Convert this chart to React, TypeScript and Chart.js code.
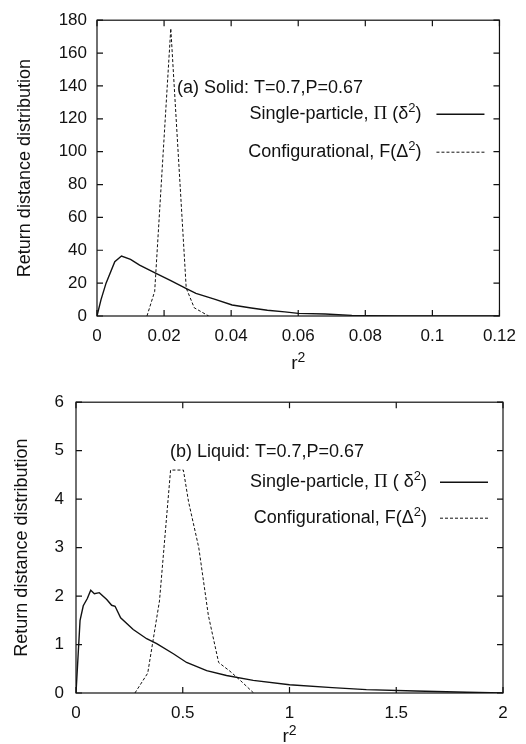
import React, { useEffect, useRef } from "react";
import { Chart, registerables } from "chart.js";
Chart.register(...registerables);

// ---------- Data: (a) Solid ----------
const solidSingleX = [0, 0.0012, 0.0027, 0.0053, 0.0073, 0.0100, 0.0127, 0.0176, 0.0220, 0.0265, 0.0295, 0.0350, 0.0403, 0.0460, 0.0508, 0.0560, 0.0600, 0.0680, 0.0760, 0.0800, 0.0900, 0.1000, 0.1200];
const solidSingleY = [0, 10, 20, 33, 36.5, 34.5, 31, 26, 21.5, 16.8, 13.8, 10.3, 6.7, 4.9, 3.5, 2.5, 1.6, 1.2, 0.4, 0.2, 0.1, 0, 0];
const solidConfX = [0.0149, 0.0172, 0.0220, 0.0266, 0.0290, 0.0333];
const solidConfY = [0, 15, 175, 17, 5, 0];

// ---------- Data: (b) Liquid ----------
const liquidSingleX = [0, 0.019, 0.034, 0.053, 0.069, 0.086, 0.109, 0.144, 0.167, 0.183, 0.209, 0.268, 0.331, 0.378, 0.456, 0.518, 0.612, 0.705, 0.830, 1.0, 1.2, 1.36, 1.59, 1.83, 2.0];
const liquidSingleY = [0, 1.5, 1.8, 1.95, 2.12, 2.05, 2.07, 1.93, 1.81, 1.79, 1.55, 1.31, 1.12, 1.02, 0.81, 0.63, 0.46, 0.36, 0.26, 0.17, 0.11, 0.07, 0.04, 0.014, 0];
const liquidConfX = [0.276, 0.336, 0.391, 0.443, 0.503, 0.527, 0.575, 0.620, 0.668, 0.721, 0.772, 0.832];
const liquidConfY = [0, 0.41, 1.9, 4.6, 4.6, 3.95, 3.0, 1.6, 0.63, 0.45, 0.25, 0];

// ---------- Ticks & text ----------
const xTicksA = [0, 0.02, 0.04, 0.06, 0.08, 0.1, 0.12];
const yTicksA = [0, 20, 40, 60, 80, 100, 120, 140, 160, 180];
const xTicksB = [0, 0.5, 1, 1.5, 2];
const yTicksB = [0, 1, 2, 3, 4, 5, 6];
const titleA = "(a) Solid: T=0.7,P=0.67";
const titleB = "(b) Liquid: T=0.7,P=0.67";
const singleLabelA = "Single-particle, Π (δ²)";
const singleLabelB = "Single-particle, Π ( δ²)";
const confLabel = "Configurational, F(Δ²)";
const yTitle = "Return distance distribution";
const xTitle = "r²";

const SANS = '"Liberation Sans", Arial, Helvetica, sans-serif';
const SERIF = '"Liberation Serif", "Times New Roman", serif';
const INK = "#111111";
const TXT = 18;

const toPts = (xs: number[], ys: number[]) => xs.map((x, i) => ({ x, y: ys[i] }));

type Run = { t: string; f: string; dy: number };
function splitRuns(label: string, size: number): Run[] {
  const runs: Run[] = [];
  let buf = "";
  const flush = () => {
    if (buf) runs.push({ t: buf, f: `${size}px ${SANS}`, dy: 0 });
    buf = "";
  };
  for (const ch of label) {
    if (ch === "Π") {
      flush();
      runs.push({ t: ch, f: `${size + 1}px ${SERIF}`, dy: 0 });
    } else if (ch === "²") {
      flush();
      runs.push({ t: "2", f: `${size - 5}px ${SANS}`, dy: -6 });
    } else buf += ch;
  }
  flush();
  return runs;
}

function drawRuns(ctx: any, runs: Run[], xStart: number, y: number) {
  let x = xStart;
  ctx.textAlign = "left";
  runs.forEach((r) => {
    ctx.font = r.f;
    ctx.fillText(r.t, x, y + r.dy);
    x += ctx.measureText(r.t).width;
  });
}

function runsWidth(ctx: any, runs: Run[]) {
  let total = 0;
  runs.forEach((r) => {
    ctx.font = r.f;
    total += ctx.measureText(r.t).width;
  });
  return total;
}

const framePlugin = {
  id: "frame",
  afterDatasetsDraw(chart: any, _args: any, opts: any) {
    const { ctx, chartArea: a, scales } = chart;
    ctx.save();
    ctx.strokeStyle = INK;
    ctx.lineWidth = 1.2;
    ctx.strokeRect(a.left, a.top, a.right - a.left, a.bottom - a.top);
    const L = 6;
    ctx.beginPath();
    scales.x.ticks.forEach((t: any) => {
      const px = scales.x.getPixelForValue(t.value);
      ctx.moveTo(px, a.bottom);
      ctx.lineTo(px, a.bottom - L);
      ctx.moveTo(px, a.top);
      ctx.lineTo(px, a.top + L);
    });
    scales.y.ticks.forEach((t: any) => {
      const py = scales.y.getPixelForValue(t.value);
      ctx.moveTo(a.left, py);
      ctx.lineTo(a.left + L, py);
      ctx.moveTo(a.right, py);
      ctx.lineTo(a.right - L, py);
    });
    ctx.stroke();

    ctx.fillStyle = INK;
    ctx.textBaseline = "middle";

    // x axis title (r with a real superscript)
    const xr = splitRuns(opts.xTitle, 19);
    const xw = runsWidth(ctx, xr);
    drawRuns(ctx, xr, (a.left + a.right) / 2 - xw / 2, a.bottom + opts.xTitleDY);

    // panel title
    ctx.textAlign = "left";
    ctx.font = `${TXT}px ${SANS}`;
    ctx.fillText(opts.title, a.left + opts.titleDX, a.top + opts.titleDY);

    // legend rows
    chart.data.datasets.forEach((ds: any, i: number) => {
      const y = a.top + opts.rowDY[i];
      const runs = splitRuns(ds.label, TXT);
      const total = runsWidth(ctx, runs);
      drawRuns(ctx, runs, a.right - opts.textDX - total, y);
      ctx.beginPath();
      ctx.strokeStyle = INK;
      ctx.lineWidth = ds.borderWidth;
      ctx.setLineDash(ds.borderDash || []);
      ctx.moveTo(a.right - opts.lineFrom, y);
      ctx.lineTo(a.right - opts.lineTo, y);
      ctx.stroke();
      ctx.setLineDash([]);
    });
    ctx.restore();
  },
};

function makeConfig(p: any) {
  return {
    type: "line",
    data: {
      datasets: [
        {
          label: p.singleLabel,
          data: toPts(p.sx, p.sy),
          borderColor: INK,
          borderWidth: 1.4,
          pointRadius: 0,
          fill: false,
          tension: 0,
        },
        {
          label: confLabel,
          data: toPts(p.cx, p.cy),
          borderColor: INK,
          borderWidth: 1,
          borderDash: [3, 2],
          pointRadius: 0,
          fill: false,
          tension: 0,
        },
      ],
    },
    options: {
      animation: false,
      responsive: false,
      events: [],
      layout: { padding: p.padding },
      plugins: {
        legend: { display: false },
        tooltip: { enabled: false },
        frame: { ...p.frame, xTitle },
      },
      scales: {
        x: {
          type: "linear",
          min: p.xTicks[0],
          max: p.xTicks[p.xTicks.length - 1],
          afterBuildTicks: (s: any) => {
            s.ticks = p.xTicks.map((v: number) => ({ value: v }));
          },
          afterFit: (s: any) => {
            s.height = p.xHeight;
          },
          grid: { display: false, drawTicks: false },
          border: { display: false },
          ticks: {
            padding: 10,
            color: INK,
            font: { family: SANS, size: 17 },
            maxRotation: 0,
            autoSkip: false,
            callback: (v: number) => String(v),
          },
          title: { display: false },
        },
        y: {
          type: "linear",
          min: p.yTicks[0],
          max: p.yTicks[p.yTicks.length - 1],
          afterBuildTicks: (s: any) => {
            s.ticks = p.yTicks.map((v: number) => ({ value: v }));
          },
          afterFit: (s: any) => {
            s.width = p.yWidth;
          },
          grid: { display: false, drawTicks: false },
          border: { display: false },
          ticks: {
            padding: p.yPad,
            color: INK,
            font: { family: SANS, size: 17 },
            autoSkip: false,
            callback: (v: number) => String(v),
          },
          title: {
            display: true,
            text: yTitle,
            color: INK,
            font: { family: SANS, size: 18, lineHeight: 1 },
            padding: 0,
          },
        },
      },
    },
    plugins: [framePlugin],
  };
}

function Panel(props: { cfg: any; width: number; height: number; top: number }) {
  const ref = useRef<HTMLCanvasElement | null>(null);
  useEffect(() => {
    if (!ref.current) return;
    const chart = new Chart(ref.current, props.cfg);
    return () => chart.destroy();
  }, []);
  return (
    <canvas
      ref={ref}
      width={props.width}
      height={props.height}
      style={{ position: "absolute", left: 0, top: props.top, width: props.width, height: props.height }}
    />
  );
}

const cfgA = makeConfig({
  sx: solidSingleX,
  sy: solidSingleY,
  cx: solidConfX,
  cy: solidConfY,
  singleLabel: singleLabelA,
  xTicks: xTicksA,
  yTicks: yTicksA,
  padding: { left: 16, right: 23, top: 20, bottom: 8 },
  yWidth: 81,
  xHeight: 56,
  yPad: 10,
  frame: { title: titleA, titleDX: 80, titleDY: 68, rowDY: [94, 132], textDX: 78, lineFrom: 63, lineTo: 15, xTitleDY: 48 },
});

const cfgB = makeConfig({
  sx: liquidSingleX,
  sy: liquidSingleY,
  cx: liquidConfX,
  cy: liquidConfY,
  singleLabel: singleLabelB,
  xTicks: xTicksB,
  yTicks: yTicksB,
  padding: { left: 13, right: 23, top: 17, bottom: 0 },
  yWidth: 63,
  xHeight: 51,
  yPad: 12,
  frame: { title: titleB, titleDX: 94, titleDY: 50, rowDY: [80, 116], textDX: 76, lineFrom: 63, lineTo: 15, xTitleDY: 44 },
});

export default function App() {
  return (
    <div style={{ position: "absolute", left: 0, top: 0, width: 526, height: 744, background: "#fff", overflow: "hidden" }}>
      <Panel cfg={cfgA} width={526} height={380} top={0} />
      <Panel cfg={cfgB} width={526} height={364} top={380} />
    </div>
  );
}
